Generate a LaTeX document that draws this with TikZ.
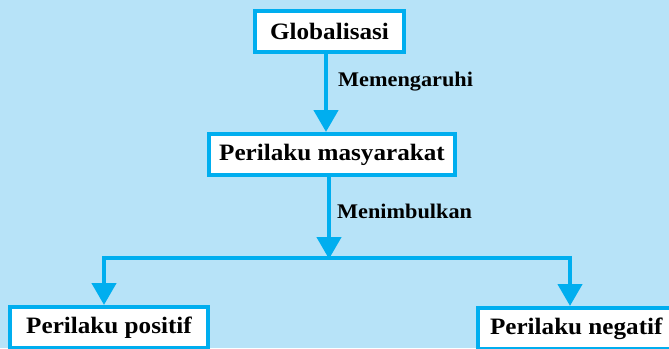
\documentclass[tikz,border=0pt]{standalone}
\usepackage{fontspec}
\setmainfont[FakeStretch=1.07]{Liberation Serif}
\usetikzlibrary{arrows.meta}
\definecolor{bg}{RGB}{183,227,248}
\definecolor{cy}{RGB}{0,174,239}
\tikzset{
  box/.style={draw=cy, line width=4pt, fill=white, inner sep=0pt, font=\fontsize{23.5}{25}\selectfont\bfseries},
  conn/.style={draw=cy, line width=4.5pt},
  arr/.style={conn, -{Triangle[width=24pt,length=22pt]}},
  lbl/.style={anchor=west, inner sep=0pt, font=\fontsize{20.8}{22}\selectfont\bfseries}
}
\begin{document}
\begin{tikzpicture}[x=1pt,y=-1pt]
\useasboundingbox (0,0) rectangle (669,348);
\clip (0,0) rectangle (669,348);
\fill[bg] (0,0) rectangle (669,348);
\node[box, minimum width=149pt, minimum height=41pt] (glob) at (329.5,31.5) {Globalisasi};
\node[box, minimum width=246pt, minimum height=41pt] (masy) at (332,154.5) {Perilaku masyarakat};
\node[box, minimum width=198pt, minimum height=41pt] (pos) at (109,327.5) {Perilaku positif};
\node[box, minimum width=202pt, minimum height=41pt, text width=178pt, align=flush left] (neg) at (579,328.5) {Perilaku negatif};
\coordinate (c1) at (326,0);
\coordinate (c2) at (329,0);
\coordinate (hl) at (104,258);
\coordinate (hr) at (570,258);
\coordinate (hm) at (329,258);
\draw[arr] (glob.south -| c1) -- (masy.north -| c1);
\draw[arr, shorten >=-1pt] (masy.south -| c2) -- (hm);
\draw[conn] (hl) -- (hr);
\draw[arr] ([yshift=2.25pt]hl) -- (pos.north -| hl);
\draw[arr] ([yshift=2.25pt]hr) -- (neg.north -| hr);
\node[lbl] (m1) at (338,82) {Memengaruhi};
\node[lbl] (m2) at (337,211) {Menimbulkan};
\end{tikzpicture}
\end{document}
